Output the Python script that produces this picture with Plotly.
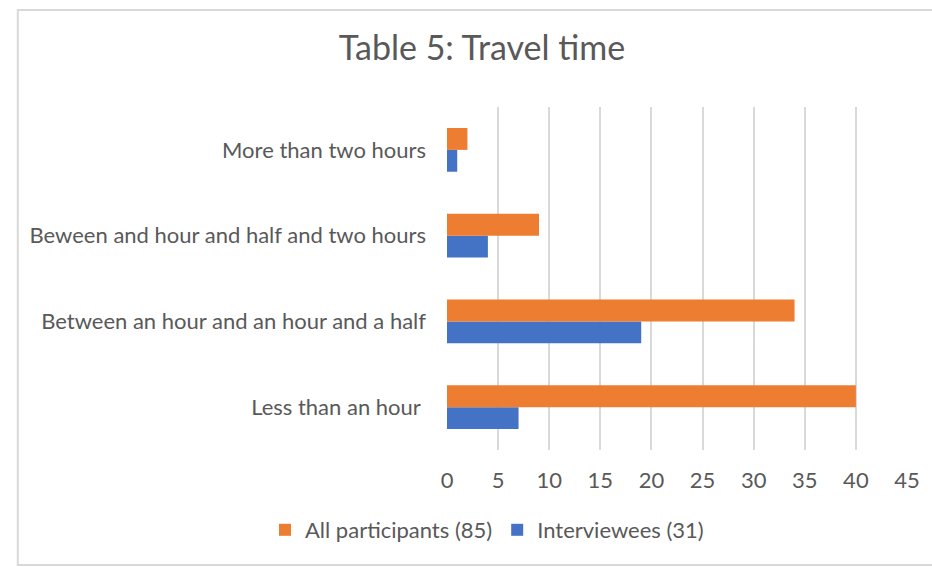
import plotly.graph_objects as go

# Travel time categories, listed bottom to top as drawn on the axis
categories = [
    "Less than an hour ",
    "Between an hour and an hour and a half",
    "Beween and hour and half and two hours",
    "More than two hours",
]
all_participants = [40, 34, 9, 2]
interviewees = [7, 19, 4, 1]
x_ticks = [0, 5, 10, 15, 20, 25, 30, 35, 40, 45]

ORANGE = "#ED7D31"
BLUE = "#4472C4"
TEXT = "#595959"
GRID = "#d9d9d9"
FONT = "Lato"

W, H = 932, 567
L, R, T, B = 447, 22, 107, 117
pw, ph = W - L - R, H - T - B


def px_x(p):
    return (p - L) / pw


def px_y(p):
    return (H - B - p) / ph


fig = go.Figure()
fig.add_trace(go.Bar(
    y=categories, x=interviewees, orientation="h",
    name="Interviewees (31)", marker=dict(color=BLUE, line=dict(width=0)),
    legendrank=2,
))
fig.add_trace(go.Bar(
    y=categories, x=all_participants, orientation="h",
    name="All participants (85)", marker=dict(color=ORANGE, line=dict(width=0)),
    legendrank=1,
))

fig.update_layout(
    width=W, height=H,
    margin=dict(l=L, r=R, t=T, b=B, pad=0),
    paper_bgcolor="white", plot_bgcolor="white",
    barmode="group", bargap=0.49, bargroupgap=0,
    font=dict(family=FONT, color=TEXT, size=22),
    title=dict(
        text="Table 5: Travel time",
        font=dict(family=FONT, size=34, color=TEXT),
        xref="container", x=482 / W, xanchor="center",
        yref="container", y=1 - 48 / H, yanchor="middle",
    ),
    xaxis=dict(
        range=[0, 45], tickvals=x_ticks, showgrid=True, gridcolor=GRID,
        gridwidth=1.5, zeroline=False, showline=False, ticks="",
        ticklabelstandoff=15, tickfont=dict(size=22, color=TEXT),
        fixedrange=True,
    ),
    yaxis=dict(
        type="category", categoryorder="array", categoryarray=categories,
        showgrid=False, zeroline=False, showline=False, ticks="",
        ticklabelstandoff=20, tickfont=dict(size=22, color=TEXT),
        fixedrange=True,
    ),
    legend=dict(
        orientation="h", xref="container", x=487 / W, xanchor="center",
        yref="container", y=1 - 530 / H, yanchor="middle",
        font=dict(size=22, color=TEXT), itemwidth=30,
        traceorder="normal",
    ),
    shapes=[
        dict(
            type="rect", xref="paper", yref="paper", layer="below",
            x0=px_x(15), x1=px_x(945), y0=px_y(565), y1=px_y(10),
            line=dict(color=GRID, width=2), fillcolor="rgba(0,0,0,0)",
        ),
    ],
)

fig.write_html("out.html")
